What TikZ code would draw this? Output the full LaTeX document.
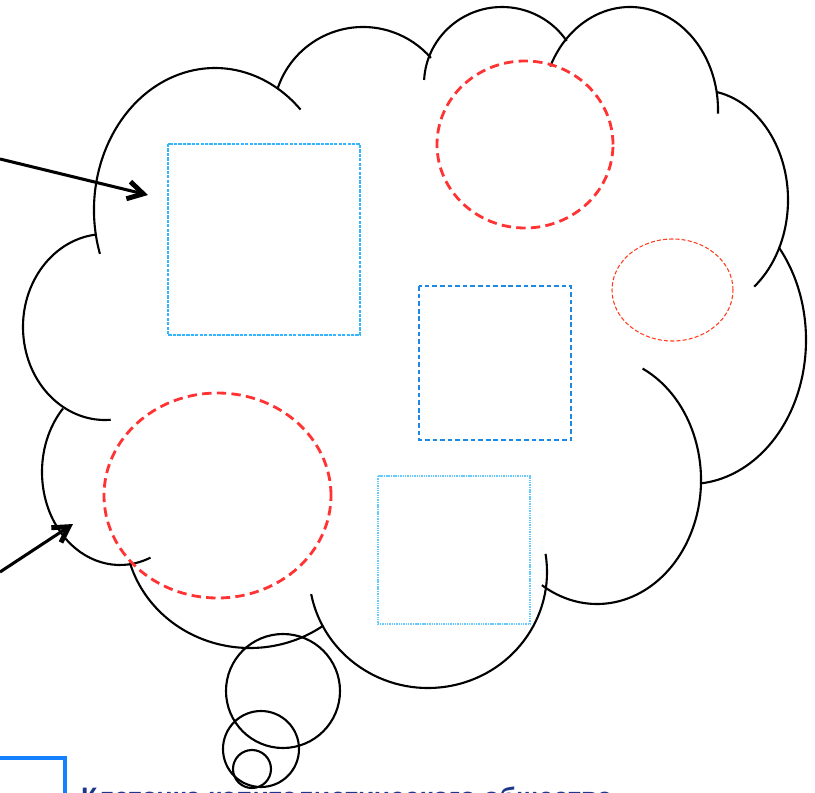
\documentclass[tikz,border=0pt]{standalone}
\usepackage{fontspec}
\setmainfont{Liberation Sans}
\usetikzlibrary{arrows.meta}
\definecolor{titleblue}{RGB}{30,55,140}
\definecolor{boxblue}{RGB}{20,130,255}
\definecolor{skyblue}{RGB}{51,181,255}
\definecolor{midblue}{RGB}{30,136,229}
\definecolor{paleblue}{RGB}{102,204,255}
\definecolor{ovalred}{RGB}{255,60,30}

\begin{document}
\begin{tikzpicture}[x=0.03cm, y=0.03cm,
  cloud/.style={line width=1.8pt},
  pointer/.style={line width=2.6pt, -{Straight Barb[length=13pt, width=15pt, line width=4.2pt]}},
  redring/.style={draw=red!80, line width=2.4pt, dash pattern=on 8pt off 4.5pt},
  smalloval/.style={draw=ovalred, line width=0.9pt, dash pattern=on 3.5pt off 1.8pt},
  sqA/.style={draw=skyblue, line width=1.2pt, dash pattern=on 2.8pt off 1pt},
  sqB/.style={draw=midblue, line width=1.1pt, dash pattern=on 4pt off 2.5pt},
  sqC/.style={draw=paleblue, line width=1.3pt, dash pattern=on 1.2pt off 0.8pt}]
\useasboundingbox (0,0) rectangle (815,-793);
%\draw[help lines, color=gray!30, dashed] (0,-793) grid[step=50] (815,0);
% cloud outline, one arc per lump
\foreach \cx/\cy/\rx/\ry/\a/\b in {215/210/121/142/198/45, 363/117/90/90/161/41,
    502/84/78/77/177/34, 630/110/88/103/155/-2, 700/200/88/110/79/-52,
    690/340/116/144/40/-85, 597/480/104/124/64/-122, 428/572/119/116/9/-169,
    250/530/125/118/196/306, 120/472/78/93/137/293, 105/327/82/93/97/274}
  \draw[cloud] (\cx,-\cy) ++({\rx*cos(\a)},{\ry*sin(\a)}) arc[start angle=\a, end angle=\b, x radius=\rx, y radius=\ry];
\draw[cloud] (283,-691) circle[radius=57];
\draw[cloud] (261,-749) circle[radius=38];
\draw[cloud] (252,-769) circle[radius=19];

% contents of the cloud
\draw[redring] (525,-144.5) ellipse[x radius=88, y radius=83.5];
\draw[redring] (217.5,-495.5) ellipse[x radius=113.5, y radius=102.5];
\draw[smalloval] (672.5,-290) ellipse[x radius=60.5, y radius=51];
\draw[sqA] (168,-144) rectangle (360,-335);
\draw[sqB] (419,-286) rectangle (571,-440);
\draw[sqC] (378,-476) rectangle (530,-624);

% arrows from outside
\coordinate (a1s) at (0,-159);
\coordinate (a1e) at (148,-195);
\coordinate (a2s) at (0,-572);
\coordinate (a2e) at (73,-524);
\draw[pointer] (a1s) -- (a1e);
\draw[pointer] (a2s) -- (a2e);

% caption below
\draw[boxblue, line width=2.6pt] (-10,-820) rectangle (65,-758);
\node[anchor=base west, inner sep=0, text=titleblue, font=\bfseries\fontsize{22.8}{27}\selectfont] (title) at (81,-806) {Клеточка капиталистического общества};
\end{tikzpicture}
\end{document}
